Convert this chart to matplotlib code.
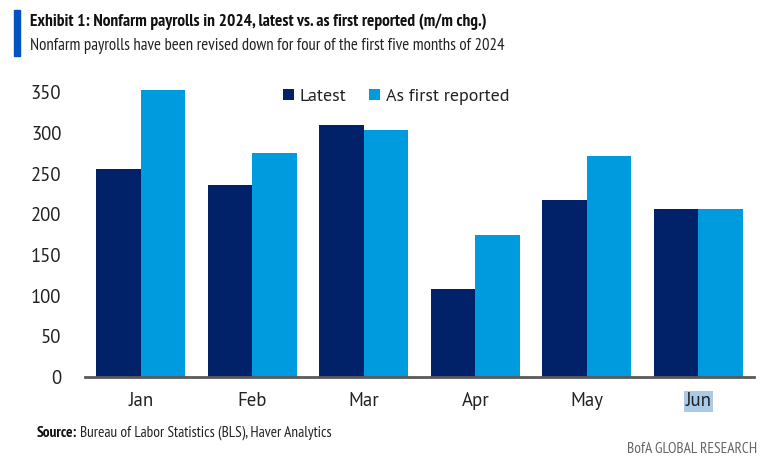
import matplotlib
matplotlib.use("Agg")
import matplotlib.pyplot as plt
import numpy as np
from matplotlib.patches import Rectangle

months = ["Jan", "Feb", "Mar", "Apr", "May", "Jun"]
latest = [256, 236, 310, 108, 218, 206]
first_reported = [353, 275, 303, 175, 272, 206]
yticks = [0, 50, 100, 150, 200, 250, 300, 350]

NAVY = "#012169"
LIGHT = "#009ADE"
FONT = ["PT Sans", "DejaVu Sans"]
NARROW = ["PT Sans Narrow", "PT Sans", "DejaVu Sans"]
plt.rcParams['font.family'] = FONT

W, H = 779, 472
fig = plt.figure(figsize=(W/100, H/100), dpi=100)
ax = fig.add_axes([85/W, 1 - 377/H, (754-85)/W, (377-84)/H])

x = np.arange(len(months))
w = 0.4
ax.bar(x - w/2, latest, width=w, color=NAVY, label="Latest")
ax.bar(x + w/2, first_reported, width=w, color=LIGHT, label="As first reported")

ax.set_xlim(-0.5, len(months) - 0.5)
ax.set_ylim(0, 360)
ax.set_yticks(yticks)
ax.set_yticklabels([str(v) for v in yticks], fontsize=13.5, color="#222222")
ax.set_xticks(x)
ax.set_xticklabels(months, fontsize=13.5, color="#222222")
ax.tick_params(axis='both', length=0)
ax.tick_params(axis='y', pad=17)
ax.tick_params(axis='x', pad=11)
for s in ["top", "right", "left"]:
    ax.spines[s].set_visible(False)
ax.spines["bottom"].set_color("#5a5a5a")
ax.spines["bottom"].set_linewidth(2)

jun = ax.get_xticklabels()[-1]
jun.set_bbox(dict(facecolor="#a9cbe8", edgecolor="none", pad=1))

leg = ax.legend(loc="center", bbox_to_anchor=((396 - 85)/(754 - 85), (377 - 97)/(377 - 84)),
                ncol=2, frameon=False,
                fontsize=13, handlelength=0.6, handleheight=0.6, handletextpad=0.3,
                columnspacing=1.3, borderpad=0, borderaxespad=0)
for t in leg.get_texts():
    t.set_color("#222222")

fig.patches.append(Rectangle((14/W, 1 - 56/H), 6/W, 46/H, transform=fig.transFigure,
                             color="#0053C2", zorder=5))

def fit(t, target_px):
    fig.canvas.draw()
    bb = t.get_window_extent()
    t.set_fontsize(t.get_fontsize() * target_px / bb.width)

t_title = fig.text(30/W, 1 - 22/H, "Exhibit 1: Nonfarm payrolls in 2024, latest vs. as first reported (m/m chg.)",
                   fontsize=13, fontweight="bold", color="#111111", va="center", ha="left",
                   family=NARROW)
fit(t_title, 457)
t_sub = fig.text(30/W, 1 - 46/H, "Nonfarm payrolls have been revised down for four of the first five months of 2024",
                 fontsize=13, color="#222222", va="center", ha="left", family=NARROW)
fit(t_sub, 470)

t1 = fig.text(37/W, 1 - 433/H, "Source:", fontsize=11, fontweight="bold", color="#111111",
              va="center", ha="left", family=NARROW)
fig.canvas.draw()
bb = t1.get_window_extent()
t2 = fig.text((bb.x1 + 3)/W, 1 - 433/H, "Bureau of Labor Statistics (BLS), Haver Analytics",
              fontsize=11, color="#222222", va="center", ha="left", family=NARROW)
t3 = fig.text(757/W, 1 - 449/H, "BofA GLOBAL RESEARCH", fontsize=10, color="#666666",
              va="center", ha="right", family=NARROW)
fit(t3, 130)

fig.savefig("out.png", dpi=100)
